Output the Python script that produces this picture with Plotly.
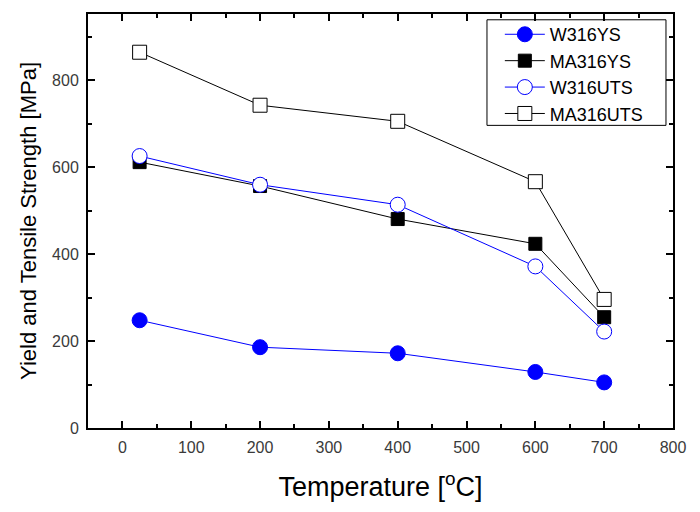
import plotly.graph_objects as go

temps = [25, 200, 400, 600, 700]
w316_ys = [248, 186, 172, 129, 105]
ma316_ys = [612, 557, 481, 424, 255]
w316_uts = [626, 560, 514, 372, 222]
ma316_uts = [865, 743, 706, 567, 296]

x_ticks = [0, 100, 200, 300, 400, 500, 600, 700, 800]
y_ticks = [0, 200, 400, 600, 800]

fig = go.Figure()
series = [
    ("W316YS", w316_ys, "#0000ff", dict(symbol="circle", color="#0000ff", size=15, line=dict(color="#0000ff", width=1))),
    ("MA316YS", ma316_ys, "#000000", dict(symbol="square", color="#000000", size=13, line=dict(color="#000000", width=1))),
    ("W316UTS", w316_uts, "#0000ff", dict(symbol="circle", color="white", size=15, line=dict(color="#0000ff", width=1))),
    ("MA316UTS", ma316_uts, "#000000", dict(symbol="square", color="white", size=14, line=dict(color="#000000", width=1))),
]
for name, vals, col, mk in series:
    fig.add_trace(go.Scatter(x=temps, y=vals, name=name, mode="lines+markers",
                             line=dict(color=col, width=1), marker=mk))

axis_common = dict(showline=True, linecolor="black", linewidth=2, mirror="ticks",
                   ticks="inside", ticklen=7, tickwidth=2, tickcolor="black",
                   showgrid=False, zeroline=False,
                   tickfont=dict(family="Liberation Sans, Arial", size=16, color="#3a3a3a"))

fig.update_xaxes(range=[-50, 800], tickvals=x_ticks, ticklabelstandoff=4,
                 minor=dict(ticks="inside", dtick=50, tick0=0, ticklen=4, tickwidth=2, tickcolor="black"),
                 title=dict(text="Temperature [<sup>o</sup>C]", font=dict(family="Liberation Sans, Arial", size=27, color="black"), standoff=22),
                 **axis_common)
fig.update_yaxes(range=[0, 953], tickvals=y_ticks, ticklabelstandoff=4,
                 minor=dict(ticks="inside", dtick=100, tick0=0, ticklen=4, tickwidth=2, tickcolor="black"),
                 title=dict(text="Yield and Tensile Strength [MPa]", font=dict(family="Liberation Sans, Arial", size=22, color="black"), standoff=9),
                 **axis_common)

# legend frame
fig.add_shape(type="rect", xref="paper", yref="paper", x0=0.682, x1=0.988, y0=0.731, y1=0.986,
              line=dict(color="black", width=1), fillcolor="white", layer="below")

fig.update_layout(
    width=700, height=512,
    margin=dict(l=88, r=27, t=12, b=84),
    plot_bgcolor="white", paper_bgcolor="white",
    legend=dict(x=0.704, y=0.995, xanchor="left", yanchor="top",
                borderwidth=0, bgcolor="rgba(0,0,0,0)",
                font=dict(family="Liberation Sans, Arial", size=18, color="black"),
                tracegroupgap=0, itemwidth=40),
    showlegend=True,
)

fig.write_html("out.html", config={"displayModeBar": False},
               post_script="document.body.style.margin='0';")
